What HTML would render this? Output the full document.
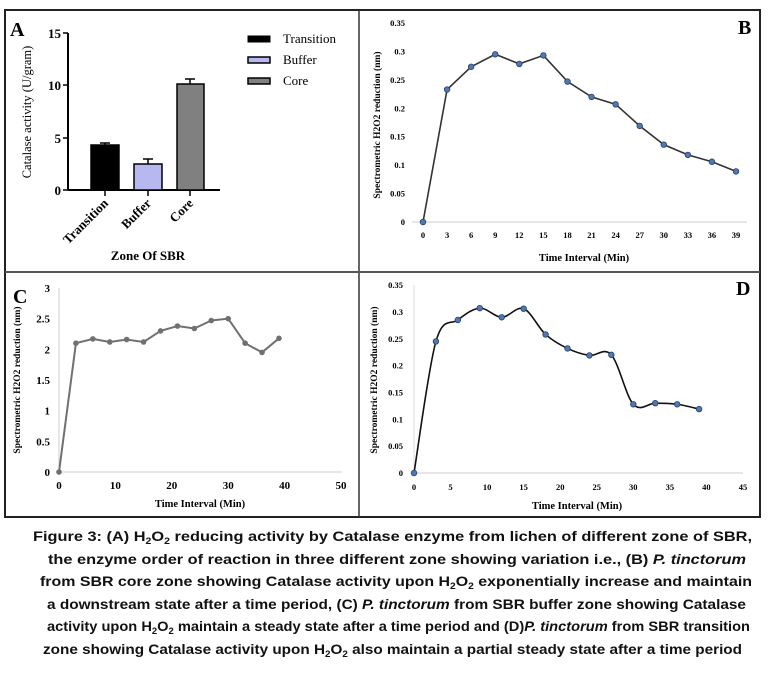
<!DOCTYPE html>
<html><head><meta charset="utf-8"><style>
html,body{margin:0;padding:0;background:#fff;}
svg{display:block;font-family:"Liberation Serif",serif;}
.cap{font-family:"Liberation Sans",sans-serif;font-weight:bold;font-size:14px;fill:#111;}
</style></head><body>
<svg id="s" width="768" height="679" viewBox="0 0 768 679" xmlns="http://www.w3.org/2000/svg">
<rect x="5" y="10" width="755" height="507" fill="none" stroke="#222" stroke-width="2"/>
<line x1="359" y1="10" x2="359" y2="517" stroke="#333" stroke-width="1.5"/>
<line x1="5" y1="272" x2="760" y2="272" stroke="#555" stroke-width="2"/>
<!-- Panel A -->
<text x="10" y="36" font-size="20" font-weight="bold">A</text>
<line x1="68" y1="33" x2="68" y2="190" stroke="#000" stroke-width="2"/>
<line x1="68" y1="190" x2="220" y2="190" stroke="#000" stroke-width="2"/>
<g stroke="#000" stroke-width="1.5"><line x1="63" y1="33" x2="68" y2="33"/><line x1="63" y1="85" x2="68" y2="85"/><line x1="63" y1="138" x2="68" y2="138"/><line x1="63" y1="190" x2="68" y2="190"/>
<line x1="105" y1="190" x2="105" y2="196"/><line x1="148" y1="190" x2="148" y2="196"/><line x1="190" y1="190" x2="190" y2="196"/></g>
<g font-size="13" font-weight="bold" text-anchor="end"><text x="61" y="38">15</text><text x="61" y="90">10</text><text x="61" y="143">5</text><text x="61" y="195">0</text></g>
<text transform="translate(31,112) rotate(-90)" font-size="12.5" text-anchor="middle">Catalase activity (U/gram)</text>
<rect x="91" y="145" width="28" height="45" fill="#000" stroke="#000" stroke-width="1.5"/>
<rect x="134" y="164" width="28" height="26" fill="#b8b8f0" stroke="#000" stroke-width="1.5"/>
<rect x="177" y="84" width="27" height="106" fill="#808080" stroke="#000" stroke-width="1.5"/>
<g stroke="#000" stroke-width="1.5"><line x1="105" y1="145" x2="105" y2="143"/><line x1="100" y1="143" x2="110" y2="143"/>
<line x1="148" y1="164" x2="148" y2="159"/><line x1="143" y1="159" x2="153" y2="159"/>
<line x1="190" y1="84" x2="190" y2="79"/><line x1="185" y1="79" x2="195" y2="79"/></g>
<g font-size="13" font-weight="bold" text-anchor="end"><text transform="translate(109,204) rotate(-45)">Transition</text><text transform="translate(152,204) rotate(-45)">Buffer</text><text transform="translate(194,204) rotate(-45)">Core</text></g>
<text x="148" y="260" font-size="13" font-weight="bold" text-anchor="middle">Zone Of SBR</text>
<rect x="248" y="36" width="22" height="6" fill="#000" stroke="#000"/>
<rect x="248" y="57" width="22" height="6" fill="#b8b8f0" stroke="#000" stroke-width="1.5"/>
<rect x="248" y="78" width="22" height="6" fill="#808080" stroke="#000" stroke-width="1.5"/>
<g font-size="13"><text x="283" y="43">Transition</text><text x="283" y="64">Buffer</text><text x="283" y="85">Core</text></g>
<!-- Panel B -->
<text x="738" y="34" font-size="20" font-weight="bold">B</text>
<line x1="412" y1="222" x2="747" y2="222" stroke="#ccc" stroke-width="1"/>
<text transform="translate(380,125) rotate(-90)" font-size="9.5" font-weight="bold" text-anchor="middle">Spectrometric H2O2 reduction (nm)</text>
<text x="584" y="261" font-size="10.5" font-weight="bold" text-anchor="middle">Time Interval (Min)</text>
<g id="bl" font-size="8.5" font-weight="bold"></g>
<!-- Panel C -->
<text x="13" y="303" font-size="20" font-weight="bold">C</text>
<line x1="59" y1="288" x2="59" y2="472" stroke="#ccc"/>
<line x1="59" y1="472" x2="342" y2="472" stroke="#ccc"/>
<text transform="translate(20,380) rotate(-90)" font-size="9.5" font-weight="bold" text-anchor="middle">Spectrometric H2O2 reduction (nm)</text>
<text x="200" y="507" font-size="10.5" font-weight="bold" text-anchor="middle">Time Interval (Min)</text>
<g id="cl" font-size="11" font-weight="bold"></g>
<!-- Panel D -->
<text x="736" y="295" font-size="20" font-weight="bold">D</text>
<line x1="414" y1="285" x2="414" y2="473" stroke="#ddd"/>
<line x1="414" y1="473" x2="743" y2="473" stroke="#ccc"/>
<text transform="translate(377,380) rotate(-90)" font-size="9.5" font-weight="bold" text-anchor="middle">Spectrometric H2O2 reduction (nm)</text>
<text x="577" y="509" font-size="10.5" font-weight="bold" text-anchor="middle">Time Interval (Min)</text>
<g id="dl" font-size="8.5" font-weight="bold"></g>
<!-- caption -->
<text class="cap" x="33" y="541" textLength="719" lengthAdjust="spacingAndGlyphs">Figure 3: (A) H<tspan font-size="9" dy="3">2</tspan><tspan dy="-3">O</tspan><tspan font-size="9" dy="3">2</tspan><tspan dy="-3"> reducing activity by Catalase enzyme  from lichen of different zone of SBR,</tspan></text>
<text class="cap" x="48" y="564" textLength="698" lengthAdjust="spacingAndGlyphs">the enzyme order of reaction in three different zone showing variation i.e., (B) <tspan font-style="italic">P. tinctorum</tspan></text>
<text class="cap" x="40" y="586" textLength="712" lengthAdjust="spacingAndGlyphs">from SBR core zone showing Catalase activity upon H<tspan font-size="9" dy="3">2</tspan><tspan dy="-3">O</tspan><tspan font-size="9" dy="3">2</tspan><tspan dy="-3"> exponentially increase and maintain</tspan></text>
<text class="cap" x="47" y="609" textLength="699" lengthAdjust="spacingAndGlyphs">a downstream state after a time period, (C) <tspan font-style="italic">P. tinctorum</tspan> from SBR buffer zone showing Catalase</text>
<text class="cap" x="47" y="631" textLength="703" lengthAdjust="spacingAndGlyphs">activity upon H<tspan font-size="9" dy="3">2</tspan><tspan dy="-3">O</tspan><tspan font-size="9" dy="3">2</tspan><tspan dy="-3"> maintain a steady state after a time period and (D)</tspan><tspan font-style="italic">P. tinctorum</tspan> from SBR transition</text>
<text class="cap" x="43" y="654" textLength="699" lengthAdjust="spacingAndGlyphs">zone showing Catalase activity upon H<tspan font-size="9" dy="3">2</tspan><tspan dy="-3">O</tspan><tspan font-size="9" dy="3">2</tspan><tspan dy="-3"> also maintain a partial steady state after a time period</tspan></text>
</svg>
<script>
var NS="http://www.w3.org/2000/svg",s=document.getElementById("s");
function el(t,a,p){var e=document.createElementNS(NS,t);for(var k in a)e.setAttribute(k,a[k]);(p||s).appendChild(e);return e;}
function txt(x,y,str,anc,p){var e=el("text",{x:x,y:y,"text-anchor":anc},p);e.textContent=str;}
var T=[0,3,6,9,12,15,18,21,24,27,30,33,36,39];
// B
var B=[0,0.233,0.273,0.295,0.278,0.293,0.247,0.22,0.207,0.169,0.136,0.118,0.106,0.089];
var bx=function(t){return 423+t*8.026},by=function(v){return 222-v*568.6};
var bl=document.getElementById("bl");
for(var i=0;i<=7;i++){var v=i*0.05;txt(405,by(v)+3,["0","0.05","0.1","0.15","0.2","0.25","0.3","0.35"][i],"end",bl);}
T.forEach(function(t){txt(bx(t),238,String(t),"middle",bl);});
el("polyline",{points:T.map(function(t,i){return bx(t)+","+by(B[i])}).join(" "),fill:"none",stroke:"#333","stroke-width":1.6});
T.forEach(function(t,i){el("circle",{cx:bx(t),cy:by(B[i]),r:2.8,fill:"#4f79b0",stroke:"#24406a","stroke-width":0.8});});
// C
var C=[0,2.1,2.17,2.12,2.16,2.12,2.3,2.38,2.34,2.47,2.5,2.1,1.95,2.18];
var cx=function(t){return 59+t*5.64},cy=function(v){return 472-v*61.33};
var cl=document.getElementById("cl");
["0","0.5","1","1.5","2","2.5","3"].forEach(function(l,i){txt(50,cy(i*0.5)+4,l,"end",cl);});
[0,10,20,30,40,50].forEach(function(t){txt(cx(t),489,String(t),"middle",cl);});
el("polyline",{points:T.map(function(t,i){return cx(t)+","+cy(C[i])}).join(" "),fill:"none",stroke:"#707070","stroke-width":2});
T.forEach(function(t,i){el("circle",{cx:cx(t),cy:cy(C[i]),r:2.8,fill:"#707070"});});
// D
var D=[0,0.245,0.285,0.307,0.29,0.306,0.258,0.232,0.219,0.22,0.128,0.13,0.128,0.119];
var dx=function(t){return 414+t*7.31},dy=function(v){return 473-v*537};
var dl=document.getElementById("dl");
["0","0.05","0.1","0.15","0.2","0.25","0.3","0.35"].forEach(function(l,i){txt(403,dy(i*0.05)+3,l,"end",dl);});
[0,5,10,15,20,25,30,35,40,45].forEach(function(t){txt(dx(t),490,String(t),"middle",dl);});
var P=T.map(function(t,i){return [dx(t),dy(D[i])]});
var d="M"+P[0][0]+","+P[0][1];
for(var i=0;i<P.length-1;i++){var p0=P[Math.max(0,i-1)],p1=P[i],p2=P[i+1],p3=P[Math.min(P.length-1,i+2)];
var c1x=p1[0]+(p2[0]-p0[0])/6,c1y=p1[1]+(p2[1]-p0[1])/6,c2x=p2[0]-(p3[0]-p1[0])/6,c2y=p2[1]-(p3[1]-p1[1])/6;
d+=" C"+c1x+","+c1y+" "+c2x+","+c2y+" "+p2[0]+","+p2[1];}
el("path",{d:d,fill:"none",stroke:"#111","stroke-width":1.6});
P.forEach(function(p){el("circle",{cx:p[0],cy:p[1],r:2.8,fill:"#4f79b0",stroke:"#24406a","stroke-width":0.8});});
</script>
</body></html>
